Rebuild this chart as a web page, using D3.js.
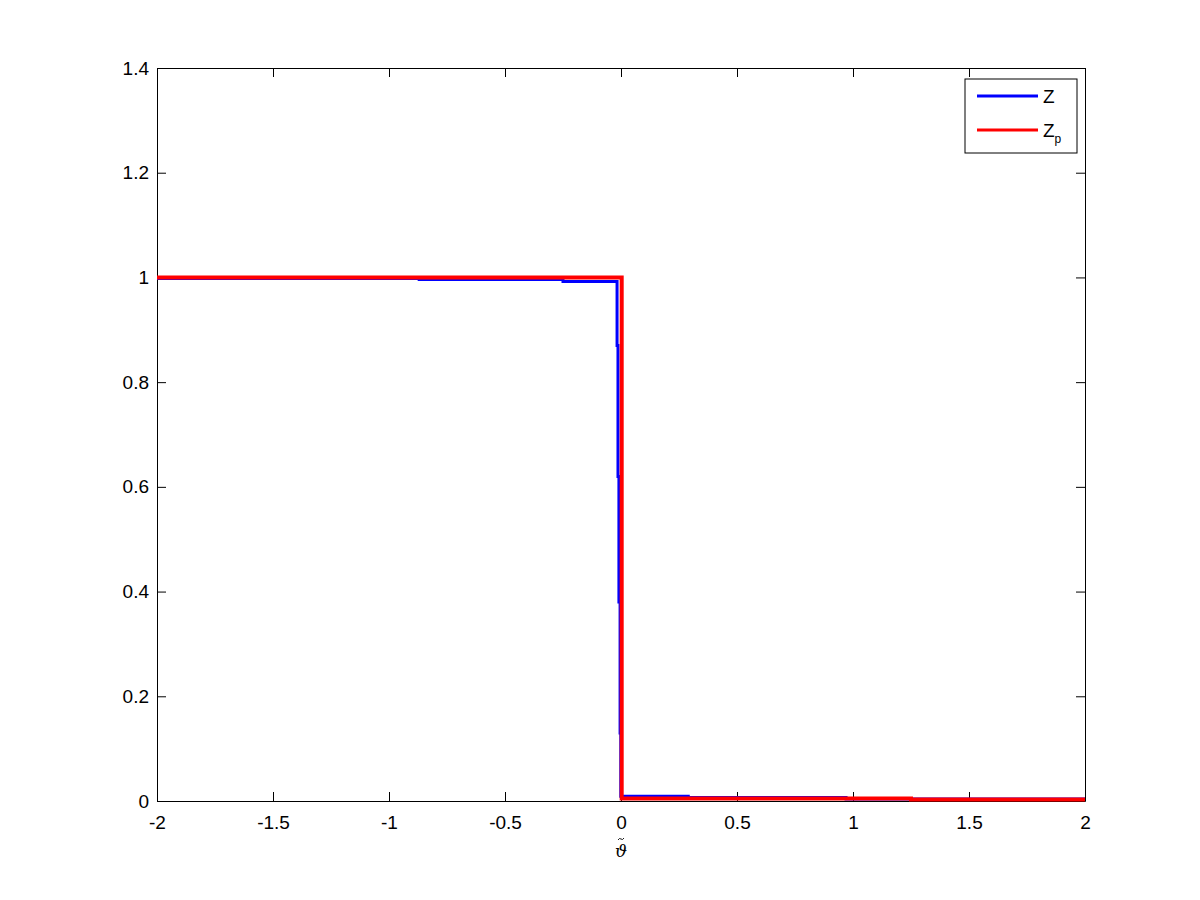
<!DOCTYPE html>
<html>
<head>
<meta charset="utf-8">
<script src="https://cdn.jsdelivr.net/npm/d3@7"></script>
<style>
  body { margin: 0; background: #fff; }
  text { font-family: "Liberation Sans", Arial, sans-serif; }
</style>
</head>
<body>
<div id="chart"></div>
<script>
// step data (value holds until the next x)
const zX = [-2, -0.87, -0.25, -0.017, -0.013, -0.009, -0.004, -0.001, 0.29, 0.97, 2];
const zY = [0.998, 0.996, 0.992, 0.87, 0.62, 0.38, 0.13, 0.009, 0.0065, 0.004, 0.004];
const zpX = [-2, 0.003, 1.25, 2];
const zpY = [1.0, 0.005, 0.003, 0.003];
const xTicks = [-2, -1.5, -1, -0.5, 0, 0.5, 1, 1.5, 2];
const yTicks = [0, 0.2, 0.4, 0.6, 0.8, 1, 1.2, 1.4];

const width = 1200, height = 900;
const margin = { top: 68, right: 115, bottom: 99, left: 157 };
const tickLen = 9;

const svg = d3.select('#chart').append('svg')
  .attr('width', width)
  .attr('height', height);

const x = d3.scaleLinear().domain([-2, 2]).range([margin.left, width - margin.right]);
const y = d3.scaleLinear().domain([0, 1.4]).range([height - margin.bottom, margin.top]);

const fmt = (d) => String(d);

// axes, ticks pointing inwards on all four sides
svg.append('g')
  .attr('transform', `translate(0,${y(0)})`)
  .call(d3.axisBottom(x).tickValues(xTicks).tickFormat(fmt).tickSizeInner(-tickLen).tickSizeOuter(0).tickPadding(15));
svg.append('g')
  .attr('transform', `translate(0,${y(1.4)})`)
  .call(d3.axisTop(x).tickValues(xTicks).tickFormat('').tickSizeInner(-tickLen).tickSizeOuter(0));
svg.append('g')
  .attr('transform', `translate(${x(-2)},0)`)
  .call(d3.axisLeft(y).tickValues(yTicks).tickFormat(fmt).tickSizeInner(-tickLen).tickSizeOuter(0).tickPadding(8));
svg.append('g')
  .attr('transform', `translate(${x(2)},0)`)
  .call(d3.axisRight(y).tickValues(yTicks).tickFormat('').tickSizeInner(-tickLen).tickSizeOuter(0));

svg.selectAll('.domain').attr('stroke', '#000');
svg.selectAll('.tick line').attr('stroke', '#000');
svg.selectAll('.tick text')
  .attr('fill', '#000')
  .style('font-size', '19px');

const line = d3.line()
  .x((d) => x(d[0]))
  .y((d) => y(d[1]))
  .curve(d3.curveStepAfter);

svg.append('path')
  .datum(d3.zip(zX, zY))
  .attr('fill', 'none')
  .attr('stroke', '#0000ff')
  .attr('stroke-width', 3)
  .attr('d', line);

svg.append('path')
  .datum(d3.zip(zpX, zpY))
  .attr('fill', 'none')
  .attr('stroke', '#ff0000')
  .attr('stroke-width', 4)
  .attr('d', line);

// x label: vartheta, tilde drawn as a small stroke above it
const xLabel = svg.append('g')
  .attr('transform', `translate(${x(0)},0)`);
xLabel.append('text')
  .attr('y', 857)
  .attr('text-anchor', 'middle')
  .style('font-family', '"DejaVu Serif", serif')
  .style('font-style', 'italic')
  .style('font-size', '17px')
  .text('\u03D1');
xLabel.append('path')
  .attr('d', 'M-3,840 q1.5,-2.5 3,-1 t3,-1')
  .attr('fill', 'none')
  .attr('stroke', '#000')
  .attr('stroke-width', 0.9);

// legend
const legend = svg.append('g').attr('transform', 'translate(965,79)');
legend.append('rect')
  .attr('width', 112)
  .attr('height', 74)
  .attr('fill', '#fff')
  .attr('stroke', '#000');

const entries = [
  { color: '#0000ff', name: 'Z', sub: '', cy: 17 },
  { color: '#ff0000', name: 'Z', sub: 'p', cy: 51 }
];
entries.forEach((e) => {
  legend.append('line')
    .attr('x1', 12).attr('x2', 73)
    .attr('y1', e.cy).attr('y2', e.cy)
    .attr('stroke', e.color)
    .attr('stroke-width', 3);
  const t = legend.append('text')
    .attr('x', 78)
    .attr('y', e.cy + 7)
    .style('font-size', '19px')
    .text(e.name);
  if (e.sub) {
    t.append('tspan')
      .attr('dy', 6)
      .style('font-size', '12px')
      .text(e.sub);
  }
});
</script>
</body>
</html>
